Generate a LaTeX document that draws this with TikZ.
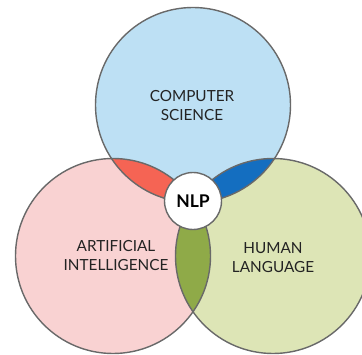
\documentclass[tikz,border=0pt]{standalone}
\usepackage{fontspec}
\setmainfont{Lato}
\definecolor{csblue}{RGB}{189,224,244}
\definecolor{aipink}{RGB}{249,210,210}
\definecolor{hlgreen}{RGB}{221,229,182}
\definecolor{redlens}{RGB}{245,100,84}
\definecolor{bluelens}{RGB}{20,110,192}
\definecolor{greenlens}{RGB}{143,170,72}
\definecolor{edge}{RGB}{105,105,105}
\definecolor{txt}{RGB}{35,35,35}
\begin{document}
\begin{tikzpicture}[x=1pt,y=1pt,
  ring/.style={draw=edge,line width=1.4pt},
  lbl/.style={text=txt,font=\fontsize{15.3}{19}\selectfont,align=center,inner sep=0pt}]
\useasboundingbox (0,0) rectangle (362,354);
\def\R{97.5}
\coordinate (cs) at (193,249);
\coordinate (ai) at (113,98);
\coordinate (hl) at (273,98);
% base fills
\fill[csblue] (cs) circle (\R);
\fill[aipink] (ai) circle (\R);
\fill[hlgreen] (hl) circle (\R);
% pairwise lenses
\begin{scope}
  \clip (cs) circle (\R);
  \fill[redlens] (ai) circle (\R);
\end{scope}
\begin{scope}
  \clip (cs) circle (\R);
  \fill[bluelens] (hl) circle (\R);
\end{scope}
\begin{scope}
  \clip (ai) circle (\R);
  \fill[greenlens] (hl) circle (\R);
\end{scope}
% outlines
\draw[ring] (cs) circle (\R);
\draw[ring] (ai) circle (\R);
\draw[ring] (hl) circle (\R);
% centre
\node[circle,fill=white,draw=edge,line width=1.4pt,minimum size=57pt,inner sep=0pt,
  font=\fontsize{17.5}{18}\selectfont\bfseries,text=black] (nlp) at (193,153) {NLP};
% labels
\node[lbl] (cslabel) at (192,248) {COMPUTER\\SCIENCE};
\node[lbl] (ailabel) at (116,98) {ARTIFICIAL\\INTELLIGENCE};
\node[lbl] (hllabel) at (273,96) {HUMAN\\LANGUAGE};
\end{tikzpicture}
\end{document}
